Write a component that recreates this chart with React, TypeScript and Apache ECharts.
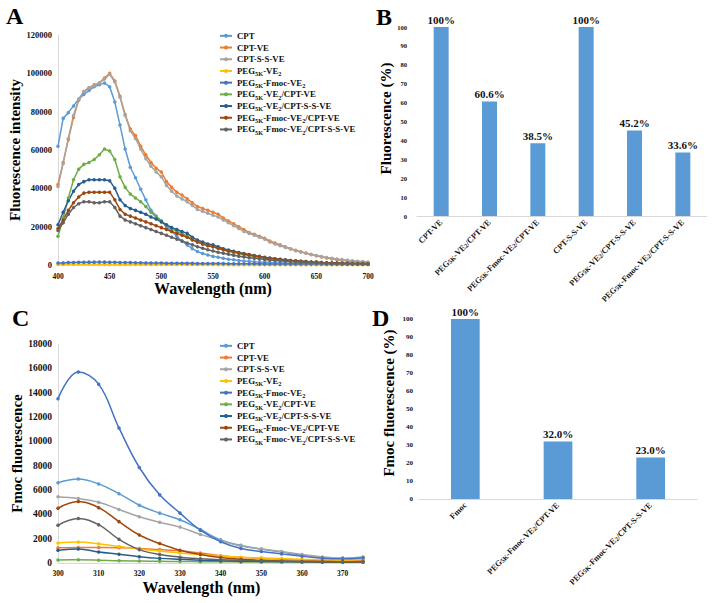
import React, { useEffect, useRef } from 'react';
import * as echarts from 'echarts';

const FONT = '"Liberation Serif", "Times New Roman", serif';

const seriesNames = [
  'CPT',
  'CPT-VE',
  'CPT-S-S-VE',
  'PEG5K-VE2',
  'PEG5K-Fmoc-VE2',
  'PEG5K-VE2/CPT-VE',
  'PEG5K-VE2/CPT-S-S-VE',
  'PEG5K-Fmoc-VE2/CPT-VE',
  'PEG5K-Fmoc-VE2/CPT-S-S-VE',
];
const seriesColors = ['#5B9BD5', '#ED7D31', '#A5A5A5', '#FFC000', '#4472C4', '#70AD47', '#255E91', '#9E480E', '#636363'];

// Panel A: wavelengths 400..700 nm, step 5
const wavelengthsA = Array.from({ length: 61 }, (_, i) => 400 + 5 * i);
const aCPT = [
  62000, 76500, 79500, 83000, 86500, 89000, 91000, 93000, 94000, 95000,
  93000, 85000, 73000, 60500, 51000, 45500, 39500, 34000, 28500, 25500,
  23000, 20000, 17500, 15000, 12500, 10500, 8500, 7000, 6000, 5200,
  4500, 4000, 3500, 3000, 2700, 2400, 2100, 1900, 1700, 1500,
  1400, 1300, 1200, 1100, 1000, 950, 900, 850, 800, 750,
  700, 650, 620, 600, 560, 520, 500, 470, 450, 420,
  400,
];
const aCPTVE = [
  42000, 53500, 65500, 77000, 86000, 90500, 92500, 94000, 95000, 97500,
  100000, 96000, 88000, 78500, 71000, 67500, 62000, 57500, 53500, 50500,
  48500, 43500, 40500, 38000, 36500, 34500, 32500, 30500, 29500, 28500,
  27500, 26500, 24500, 23000, 21500, 20000, 18500, 17000, 16000, 15000,
  14000, 12500, 11500, 10500, 9500, 8500, 7700, 6900, 6200, 5500,
  4800, 4200, 3700, 3200, 2800, 2500, 2200, 1900, 1600, 1300,
  1100,
];
const aCPTSSVE = [
  41000, 53000, 66000, 78000, 86500, 90500, 92500, 93500, 95000, 97000,
  99500, 95500, 87500, 78000, 70000, 66000, 60500, 55500, 51500, 48500,
  46000, 41500, 38500, 36000, 34500, 33000, 31000, 29000, 28000, 27000,
  26000, 25000, 23500, 22000, 20500, 19000, 17500, 16500, 15500, 14500,
  13500, 12000, 11000, 10000, 9200, 8300, 7500, 6800, 6100, 5500,
  4900, 4400, 3900, 3500, 3100, 2800, 2500, 2200, 2000, 1800,
  1600,
];
const aPEGVE2 = [
  300, 320, 340, 350, 360, 360, 350, 350, 340, 330,
  330, 320, 310, 300, 300, 290, 280, 280, 270, 260,
  260, 250, 250, 240, 240, 230, 230, 220, 220, 210,
  210, 200, 200, 200, 190, 190, 180, 180, 180, 170,
  170, 170, 160, 160, 160, 150, 150, 150, 150, 140,
  140, 140, 140, 130, 130, 130, 130, 120, 120, 120,
  120,
];
const aPEGFmocVE2 = [
  1000, 1100, 1250, 1300, 1400, 1450, 1500, 1500, 1550, 1500,
  1450, 1400, 1350, 1300, 1250, 1200, 1150, 1100, 1050, 1000,
  1000, 950, 950, 900, 900, 850, 850, 800, 800, 780,
  760, 740, 720, 700, 680, 660, 640, 620, 600, 590,
  580, 570, 560, 550, 540, 530, 520, 510, 500, 490,
  480, 470, 460, 450, 440, 430, 420, 410, 400, 390,
  380,
];
const aVE2CPTVE = [
  15000, 24500, 35000, 44500, 50000, 52500, 53500, 55000, 57500, 60500,
  59500, 55000, 46000, 40500, 37000, 35000, 33000, 30500, 27500, 25000,
  23000, 20500, 19000, 17500, 16500, 15000, 13500, 12000, 11000, 10200,
  9500, 8700, 7900, 7200, 6600, 6000, 5400, 4900, 4400, 4000,
  3600, 3200, 2900, 2600, 2300, 2100, 1900, 1700, 1500, 1400,
  1200, 1100, 1000, 900, 800, 700, 650, 600, 550, 500,
  450,
];
const aVE2CPTSSVE = [
  21000, 27500, 33500, 38500, 42000, 43500, 44500, 44500, 44500, 44500,
  44000, 40000, 34000, 31000, 29500, 28500, 27500, 26500, 25000, 24000,
  22500, 21000, 19500, 18500, 17500, 16500, 14500, 13000, 12000, 11000,
  10500, 9500, 8500, 7800, 7200, 6500, 6000, 5500, 5000, 4500,
  4000, 3700, 3300, 3000, 2700, 2400, 2200, 2000, 1800, 1600,
  1500, 1300, 1200, 1100, 1000, 950, 900, 850, 800, 750,
  700,
];
const aFmocCPTVE = [
  19000, 23500, 28500, 32500, 35500, 37500, 38000, 38000, 38000, 38000,
  38000, 34000, 29000, 26500, 25500, 24500, 23500, 22500, 21500, 20500,
  19500, 18500, 17500, 16500, 15500, 14500, 13000, 12000, 11000, 10000,
  9500, 8700, 8000, 7300, 6800, 6200, 5700, 5200, 4700, 4200,
  3800, 3500, 3200, 2900, 2600, 2400, 2200, 2000, 1800, 1600,
  1500, 1300, 1200, 1100, 1000, 900, 850, 800, 700, 650,
  600,
];
const aFmocCPTSSVE = [
  18000, 22000, 26500, 30000, 32000, 33000, 33000, 32500, 32500, 33000,
  33000, 30000, 25500, 23500, 22500, 21500, 20500, 19500, 18500, 17500,
  16500, 15500, 14500, 13500, 12500, 11500, 10500, 9500, 8700, 8000,
  7300, 6700, 6100, 5600, 5100, 4600, 4200, 3800, 3500, 3200,
  2900, 2600, 2400, 2200, 2000, 1800, 1600, 1500, 1300, 1200,
  1100, 1000, 900, 800, 750, 700, 650, 600, 550, 500,
  450,
];
const seriesA = [aCPT, aCPTVE, aCPTSSVE, aPEGVE2, aPEGFmocVE2, aVE2CPTVE, aVE2CPTSSVE, aFmocCPTVE, aFmocCPTSSVE];

// Panel C: wavelengths 300..375 nm, step 5
const wavelengthsC = Array.from({ length: 16 }, (_, i) => 300 + 5 * i);
const cCPT = [6600, 6900, 6500, 5700, 4750, 4100, 3550, 2750, 1900, 1450, 1150, 900, 650, 450, 380, 450];
const cCPTVE = [1250, 1280, 1270, 1250, 1200, 1100, 1000, 820, 600, 450, 380, 300, 250, 200, 200, 220];
const cCPTSSVE = [5450, 5300, 5000, 4400, 3800, 3350, 2950, 2350, 1850, 1400, 1150, 950, 700, 500, 420, 500];
const cPEGVE2 = [1650, 1720, 1580, 1350, 1150, 980, 830, 700, 580, 480, 420, 360, 300, 260, 230, 300];
const cPEGFmocVE2 = [13500, 15700, 14700, 11100, 7850, 5600, 4100, 2700, 1750, 1200, 950, 750, 550, 400, 350, 420];
const cVE2CPTVE = [250, 260, 230, 180, 160, 140, 120, 110, 100, 90, 80, 80, 70, 70, 60, 60];
const cVE2CPTSSVE = [1050, 1150, 900, 720, 520, 380, 300, 230, 180, 150, 130, 110, 100, 90, 80, 80];
const cFmocCPTVE = [4500, 5050, 4550, 3400, 2300, 1600, 1050, 700, 450, 300, 220, 170, 130, 110, 100, 100];
const cFmocCPTSSVE = [3100, 3650, 3150, 1950, 1100, 700, 480, 350, 260, 210, 180, 150, 130, 120, 110, 110];
const seriesC = [cCPT, cCPTVE, cCPTSSVE, cPEGVE2, cPEGFmocVE2, cVE2CPTVE, cVE2CPTSSVE, cFmocCPTVE, cFmocCPTSSVE];

// Panel B
const categoriesB = ['CPT-VE', 'PEG5K-VE2/CPT-VE', 'PEG5K-Fmoc-VE2/CPT-VE', 'CPT-S-S-VE', 'PEG5K-VE2/CPT-S-S-VE', 'PEG5K-Fmoc-VE2/CPT-S-S-VE'];
const valuesB = [100, 60.6, 38.5, 100, 45.2, 33.6];

// Panel D
const categoriesD = ['Fmoc', 'PEG5K-Fmoc-VE2/CPT-VE', 'PEG5K-Fmoc-VE2/CPT-S-S-VE'];
const valuesD = [100, 32.0, 23.0];

const sub = (s: string) => s.replace(/PEG5K/g, 'PEG{s|5K}').replace(/VE2/g, 'VE{s|2}');
const pct = (v: number) => (v === 100 ? '100%' : v.toFixed(1) + '%');

const AXIS_LINE = { show: true, lineStyle: { color: '#D9D9D9', width: 1 } };
const NAME_STYLE = { fontFamily: FONT, fontWeight: 'bold' as const, fontSize: 15, color: '#000' };

function App() {
  const ref = useRef<HTMLDivElement>(null);
  useEffect(() => {
    if (!ref.current) return;
    const chart = echarts.init(ref.current, undefined, { renderer: 'svg' });

    const legendBase = (top: number) => ({
      orient: 'vertical',
      left: 219,
      top,
      padding: 0,
      itemGap: 0,
      itemWidth: 12,
      itemHeight: 5,
      selectedMode: false,
      data: seriesNames,
      formatter: (n: string) => sub(n),
      textStyle: {
        fontFamily: FONT,
        fontWeight: 'bold',
        fontSize: 8.8,
        color: '#111',
        lineHeight: 11.7,
        rich: {
          s: { fontFamily: FONT, fontWeight: 'bold', fontSize: 6.3, lineHeight: 6, verticalAlign: 'bottom', color: '#111' },
        },
      },
    });

    const catLabel = {
      rotate: 45,
      interval: 0,
      margin: 5,
      fontFamily: FONT,
      fontWeight: 'bold',
      fontSize: 8.3,
      color: '#111',
      formatter: (v: string) => sub(v),
      rich: {
        s: { fontFamily: FONT, fontWeight: 'bold', fontSize: 6.5, lineHeight: 6, verticalAlign: 'bottom', color: '#111' },
      },
    };

    const lineSeriesA = seriesNames.map((name, k) => ({
      type: 'line',
      name,
      xAxisIndex: 0,
      yAxisIndex: 0,
      data: wavelengthsA.map((w, i) => [w, seriesA[k][i]]),
      symbol: 'circle',
      symbolSize: 3.5,
      lineStyle: { width: 1.5, color: seriesColors[k] },
      itemStyle: { color: seriesColors[k] },
    }));
    const lineSeriesC = seriesNames.map((name, k) => ({
      type: 'line',
      name,
      xAxisIndex: 2,
      yAxisIndex: 2,
      smooth: 0.4,
      data: wavelengthsC.map((w, i) => [w, seriesC[k][i]]),
      symbol: 'circle',
      symbolSize: 3.5,
      lineStyle: { width: 1.5, color: seriesColors[k] },
      itemStyle: { color: seriesColors[k] },
    }));

    const valueTick = (size: number, margin: number) => ({
      fontFamily: FONT,
      fontWeight: 'bold',
      fontSize: size,
      color: '#111',
      margin,
      formatter: (v: number) => String(v),
    });

    chart.setOption({
      animation: false,
      color: seriesColors,
      grid: [
        { left: 58, top: 35, width: 310, height: 230 },
        { left: 417, top: 27, width: 290, height: 189 },
        { left: 58, top: 344, width: 305, height: 219 },
        { left: 419, top: 319, width: 278, height: 180 },
      ],
      xAxis: [
        {
          gridIndex: 0, type: 'value', min: 400, max: 700, interval: 50,
          axisLine: AXIS_LINE, axisTick: { show: false }, splitLine: { show: false },
          axisLabel: valueTick(7.5, 7),
          name: 'Wavelength (nm)', nameLocation: 'middle', nameGap: 11, nameTextStyle: { ...NAME_STYLE, fontSize: 16 },
        },
        {
          gridIndex: 1, type: 'category', data: categoriesB,
          axisLine: AXIS_LINE, axisTick: { show: false }, axisLabel: catLabel,
        },
        {
          gridIndex: 2, type: 'value', min: 300, max: 375, interval: 10,
          axisLine: AXIS_LINE, axisTick: { show: false }, splitLine: { show: false },
          axisLabel: { ...valueTick(7.5, 6), showMaxLabel: false },
          name: 'Wavelength (nm)', nameLocation: 'middle', nameGap: 16,
          nameTextStyle: { ...NAME_STYLE, fontSize: 16, padding: [0, 18, 0, 0] },
        },
        {
          gridIndex: 3, type: 'category', data: categoriesD,
          axisLine: AXIS_LINE, axisTick: { show: false }, axisLabel: catLabel,
        },
      ],
      yAxis: [
        {
          gridIndex: 0, type: 'value', min: 0, max: 120000, interval: 20000,
          axisLine: AXIS_LINE, axisTick: { show: false }, splitLine: { show: false },
          axisLabel: valueTick(8.5, 6),
          name: 'Fluorescence intensity', nameLocation: 'middle', nameGap: 35, nameRotate: 90, nameTextStyle: NAME_STYLE,
        },
        {
          gridIndex: 1, type: 'value', min: 0, max: 100, interval: 10,
          axisLine: { show: false }, axisTick: { show: false }, splitLine: { show: false },
          axisLabel: valueTick(6.5, 10),
          name: 'Fluorescence (%)', nameLocation: 'middle', nameGap: 23, nameRotate: 90,
          nameTextStyle: { ...NAME_STYLE, padding: [0, 0, 0, 6] },
        },
        {
          gridIndex: 2, type: 'value', min: 0, max: 18000, interval: 2000,
          axisLine: AXIS_LINE, axisTick: { show: false }, splitLine: { show: false },
          axisLabel: valueTick(9.5, 6),
          name: 'Fmoc fluorescence', nameLocation: 'middle', nameGap: 34, nameRotate: 90, nameTextStyle: NAME_STYLE,
        },
        {
          gridIndex: 3, type: 'value', min: 0, max: 100, interval: 10,
          axisLine: { show: false }, axisTick: { show: false }, splitLine: { show: false },
          axisLabel: valueTick(7, 6),
          name: 'Fmoc fluorescence (%)', nameLocation: 'middle', nameGap: 23, nameRotate: 90,
          nameTextStyle: { ...NAME_STYLE, padding: [0, 0, 0, 12] },
        },
      ],
      legend: [legendBase(30), legendBase(340)],
      graphic: [
        { type: 'text', x: 6, y: 16, style: { text: 'A', fontFamily: FONT, fontWeight: 'bold', fontSize: 24, fill: '#000', verticalAlign: 'middle' } },
        { type: 'text', x: 376, y: 17, style: { text: 'B', fontFamily: FONT, fontWeight: 'bold', fontSize: 24, fill: '#000', verticalAlign: 'middle' } },
        { type: 'text', x: 12, y: 318, style: { text: 'C', fontFamily: FONT, fontWeight: 'bold', fontSize: 24, fill: '#000', verticalAlign: 'middle' } },
        { type: 'text', x: 372, y: 318, style: { text: 'D', fontFamily: FONT, fontWeight: 'bold', fontSize: 24, fill: '#000', verticalAlign: 'middle' } },
      ],
      series: [
        ...lineSeriesA,
        {
          type: 'bar', name: 'B', xAxisIndex: 1, yAxisIndex: 1, data: valuesB, barWidth: '31%',
          itemStyle: { color: '#5B9BD5' },
          label: {
            show: true, position: 'top', distance: 2, fontFamily: FONT, fontWeight: 'bold', fontSize: 11, color: '#111',
            formatter: (p: any) => pct(p.value),
          },
        },
        ...lineSeriesC,
        {
          type: 'bar', name: 'D', xAxisIndex: 3, yAxisIndex: 3, data: valuesD, barWidth: '31%',
          itemStyle: { color: '#5B9BD5' },
          label: {
            show: true, position: 'top', distance: 2, fontFamily: FONT, fontWeight: 'bold', fontSize: 11, color: '#111',
            formatter: (p: any) => pct(p.value),
          },
        },
      ],
    });
    return () => chart.dispose();
  }, []);
  return <div ref={ref} style={{ position: 'fixed', left: 0, top: 0, width: 714, height: 603, background: '#fff' }} />;
}

export default App;
